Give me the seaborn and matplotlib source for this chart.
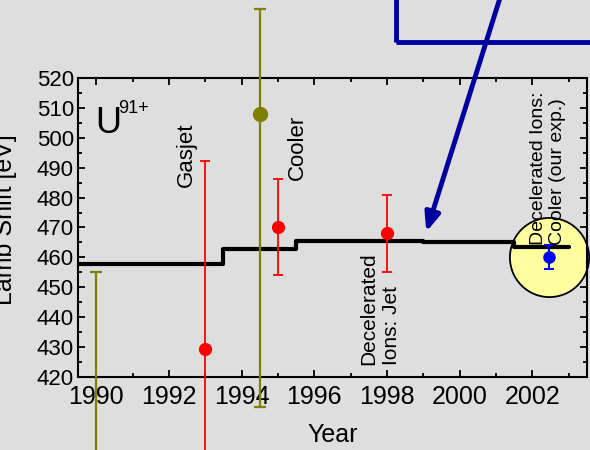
import numpy as np
import pandas as pd
import matplotlib
matplotlib.use("Agg")
import matplotlib.pyplot as plt
from matplotlib.patches import Rectangle
from matplotlib.ticker import MultipleLocator
import seaborn as sns

# data
step_years = [1989.5, 1993.5, 1995.5, 1999.0, 2001.5, 2003.0]
step_shift = [457.8, 462.7, 465.6, 465.0, 463.6, 463.6]

red_years = [1993.0, 1995.0, 1998.0]
red_shift = [429.4, 470.2, 468.0]
red_err = [63.0, 16.0, 13.0]

olive_years = [1990.0, 1994.5]
olive_shift = [360.0, 508.0]
olive_err_lo = [95.0, 98.0]
olive_err_hi = [95.0, 35.0]

blue_years = [2002.46]
blue_shift = [460.0]
blue_err = [4.0]

bg = "#dedede"
sns.set_style("ticks", {"axes.facecolor": bg, "figure.facecolor": bg})
plt.rcParams["font.family"] = ["Liberation Sans", "DejaVu Sans"]
plt.rcParams["text.color"] = "black"
plt.rcParams["axes.labelcolor"] = "black"
plt.rcParams["xtick.color"] = "black"
plt.rcParams["ytick.color"] = "black"

fig = plt.figure(figsize=(5.9, 4.5), dpi=100)
ax = fig.add_axes([0.1322, 0.1622, 0.8627, 0.6645])

# yellow highlight circle behind our measurement
ax.scatter(blue_years, [460.3], s=3250, color="#ffffa0", edgecolor="black",
           linewidth=1.3, zorder=1, clip_on=False)

# theory step line
steps = pd.DataFrame({"Year": step_years, "Shift": step_shift})
sns.lineplot(data=steps, x="Year", y="Shift", drawstyle="steps-post",
             color="black", linewidth=3, ax=ax, zorder=3, sort=False)

# experiments
ax.errorbar(olive_years, olive_shift, yerr=[olive_err_lo, olive_err_hi], fmt="o",
            color="#808000", ms=10, elinewidth=1.6, capsize=4, capthick=1.6,
            clip_on=False, zorder=4)
ax.errorbar(red_years, red_shift, yerr=red_err, fmt="o", color="red", ms=8.5,
            elinewidth=1.3, capsize=3.5, capthick=1.3, clip_on=False, zorder=4)
ax.errorbar(blue_years, blue_shift, yerr=blue_err, fmt="o", color="blue", ms=8,
            elinewidth=1.5, capsize=3.5, capthick=1.5, zorder=5)

ax.set_xlim(1989.5, 2003.5)
ax.set_ylim(420, 520)
ax.xaxis.set_major_locator(MultipleLocator(2))
ax.xaxis.set_minor_locator(MultipleLocator(1))
ax.yaxis.set_major_locator(MultipleLocator(10))
ax.yaxis.set_minor_locator(MultipleLocator(5))
ax.tick_params(which="both", direction="in", top=True, right=True, width=1.3, color="black")
ax.tick_params(which="major", length=5)
ax.tick_params(which="minor", length=3)
ax.tick_params(axis="x", labelsize=18, pad=6)
ax.tick_params(axis="y", labelsize=16, pad=3)
for s in ax.spines.values():
    s.set_linewidth(1.5)
    s.set_color("black")

ax.set_xlabel("Year", fontsize=18, labelpad=10)
ax.set_ylabel("Lamb Shift [eV]", fontsize=18)
ax.yaxis.set_label_coords(-0.12, 0.527)

# labels
ax.text(1989.97, 501.6, "U", fontsize=26, ha="left", va="baseline")
ax.text(1990.6, 508.3, "91+", fontsize=13, ha="left", va="baseline")
ax.text(1992.48, 483.5, "Gasjet", fontsize=16, rotation=90, ha="center", va="bottom")
ax.text(1995.53, 485.9, "Cooler", fontsize=16, rotation=90, ha="center", va="bottom")
ax.text(1997.81, 424.0, "Decelerated\nIons: Jet", fontsize=15, rotation=90,
        ha="center", va="bottom", multialignment="left", zorder=6)
ax.text(2002.43, 464.1, "Decelerated Ions:\nCooler (our exp.)", fontsize=14, rotation=90,
        ha="center", va="bottom", multialignment="left", zorder=6)

# blue box and arrow from the inset above
ax.add_patch(Rectangle((1998.26, 532.0), 10, 40, fill=False, edgecolor="#0000a0",
                       linewidth=3.5, clip_on=False, zorder=6))
ax.annotate("", xy=(1999.08, 468.5), xytext=(2001.1, 546.5),
            arrowprops=dict(arrowstyle="-|>,head_length=1.1,head_width=0.45",
                            color="#0000a0", lw=3.5, shrinkA=0, shrinkB=0),
            annotation_clip=False, zorder=6)

fig.savefig("out.png", dpi=100, facecolor=bg)
